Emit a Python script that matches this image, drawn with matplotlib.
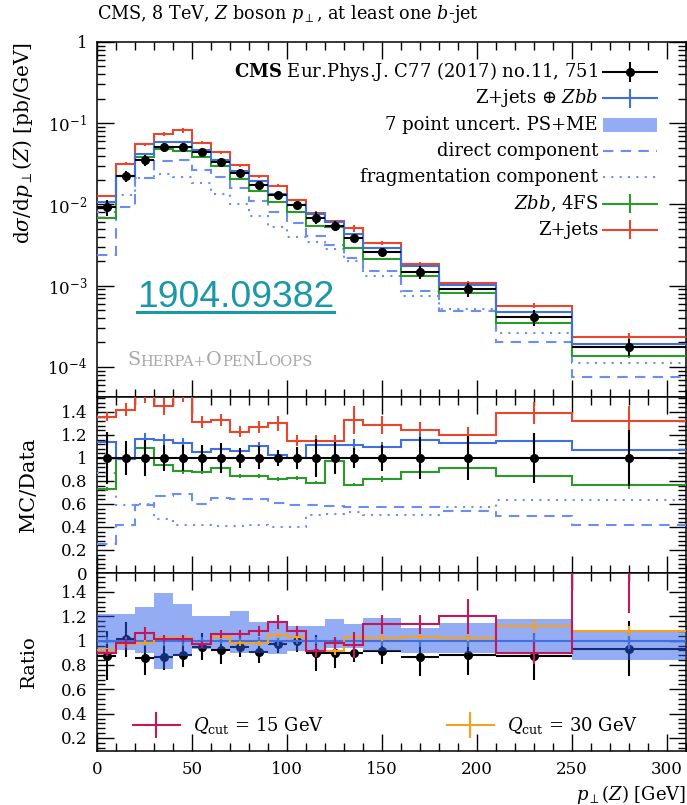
import numpy as np
import matplotlib.pyplot as plt
from matplotlib.ticker import MultipleLocator, LogLocator, FuncFormatter, NullFormatter
from matplotlib.patches import Rectangle
from matplotlib.lines import Line2D

plt.rcParams["font.family"] = "DejaVu Serif"
plt.rcParams["mathtext.fontset"] = "dejavuserif"

# bin edges in p_T(Z) [GeV]
edges = [0, 10, 20, 30, 40, 50, 60, 70, 80, 90, 100, 110, 120, 130, 140, 160, 180, 210, 250, 310]

# CMS data [pb/GeV] and relative uncertainty
data = [9.3e-3, 0.0224, 0.0353, 0.0506, 0.0515, 0.0439, 0.033, 0.0246, 0.0174, 0.0131,
        0.00986, 0.00689, 0.00543, 0.00384, 0.00263, 0.00149, 9.0e-4, 4.1e-4, 1.78e-4]
data_err = [0.23, 0.145, 0.16, 0.116, 0.116, 0.116, 0.13, 0.087, 0.10, 0.072,
            0.094, 0.165, 0.137, 0.084, 0.116, 0.18, 0.19, 0.22, 0.24]

# MC / data
ratio_comb = [1.14, 0.99, 1.168, 1.16, 1.13, 1.052, 1.08, 1.058, 1.104, 1.029,
              1.0, 1.116, 1.116, 1.116, 1.096, 1.16, 1.13, 1.148, 1.07]
ratio_direct = [0.255, 0.415, 0.594, 0.67, 0.69, 0.603, 0.652, 0.64, 0.64, 0.611,
                0.594, 0.589, 0.583, 0.574, 0.57, 0.574, 0.536, 0.496, 0.42]
ratio_frag = [0.87, 0.589, 0.60, 0.472, 0.42, 0.42, 0.409, 0.41, 0.42, 0.40,
              0.40, 0.50, 0.516, 0.53, 0.507, 0.507, 0.574, 0.632, 0.632]
ratio_zbb = [0.73, 0.99, 1.087, 0.942, 0.884, 0.878, 0.913, 0.843, 0.843, 0.82,
             0.826, 0.786, 0.97, 0.768, 0.82, 0.878, 0.913, 0.843, 0.762]
ratio_zjets = [1.36, 1.42, 1.56, 1.45, 1.60, 1.31, 1.33, 1.23, 1.27, 1.30,
               1.15, 1.15, 1.15, 1.33, 1.29, 1.24, 1.20, 1.39, 1.32]

# MC stat. uncertainties (relative)
err_comb = [0.03, 0.03, 0.04, 0.04, 0.04, 0.03, 0.03, 0.03, 0.03, 0.04,
            0.03, 0.03, 0.03, 0.04, 0.04, 0.05, 0.05, 0.06, 0.07]
err_zbb = [0.02, 0.02, 0.03, 0.03, 0.03, 0.02, 0.02, 0.02, 0.02, 0.02,
           0.02, 0.02, 0.03, 0.02, 0.03, 0.03, 0.03, 0.03, 0.04]
err_zjets = [0.03, 0.04, 0.05, 0.05, 0.07, 0.04, 0.04, 0.04, 0.04, 0.05,
             0.04, 0.04, 0.04, 0.09, 0.06, 0.06, 0.06, 0.07, 0.10]

# bottom panel: 7 point band and Qcut variations (ratio to Z+jets + Zbb)
band_lo = [0.90, 0.92, 0.90, 0.77, 0.87, 0.93, 0.93, 0.90, 0.90, 0.89,
           0.915, 0.915, 0.94, 0.94, 0.915, 0.90, 0.90, 0.888, 0.84]
band_hi = [1.22, 1.22, 1.28, 1.39, 1.30, 1.20, 1.20, 1.24, 1.15, 1.15,
           1.12, 1.12, 1.175, 1.135, 1.19, 1.107, 1.148, 1.18, 1.08]
qcut15 = [0.902, 0.978, 1.06, 1.016, 1.016, 0.97, 1.052, 1.052, 1.079, 1.153,
          1.079, 0.915, 0.984, 0.962, 1.134, 1.134, 1.20, 0.896, 1.75]
err15 = [0.03, 0.04, 0.05, 0.03, 0.03, 0.03, 0.03, 0.03, 0.04, 0.05,
         0.04, 0.05, 0.05, 0.11, 0.07, 0.07, 0.12, 0.10, 0.30]
qcut30 = [0.924, 0.97, 0.984, 1.025, 1.025, 0.97, 1.033, 0.978, 0.978, 1.044,
          1.033, 0.915, 0.915, 1.033, 1.025, 1.033, 1.025, 1.12, 1.079]
err30 = [0.02, 0.02, 0.02, 0.02, 0.02, 0.03, 0.02, 0.02, 0.02, 0.02,
         0.03, 0.03, 0.04, 0.03, 0.03, 0.03, 0.03, 0.05, 0.04]

C_COMB = "#4070e0"
C_COMP = "#6a8ff0"
C_ZBB = "#2a9a2a"
C_ZJ = "#e8472b"
C_Q15 = "#c2185b"
C_Q30 = "#f5a020"
C_BAND = "#2a5ae8"

edges = np.array(edges, dtype=float)
centers = 0.5 * (edges[:-1] + edges[1:])
halfw = 0.5 * np.diff(edges)
data = np.array(data)
data_err = np.array(data_err)

# absolute MC predictions
mc = {
    "comb": data * np.array(ratio_comb),
    "direct": data * np.array(ratio_direct),
    "frag": data * np.array(ratio_frag),
    "zbb": data * np.array(ratio_zbb),
    "zjets": data * np.array(ratio_zjets),
}

fig = plt.figure(figsize=(6.87, 8.05), dpi=100)
L, W = 97 / 687, 589 / 687
ax1 = fig.add_axes([L, 1 - 397 / 805, W, 355 / 805])
ax2 = fig.add_axes([L, 1 - 573 / 805, W, 176 / 805])
ax3 = fig.add_axes([L, 1 - 751 / 805, W, 178 / 805])

LW = 1.5


def hist(ax, vals, err, color, ls="-", z=3):
    vals = np.asarray(vals)
    ax.stairs(vals, edges, baseline=None, color=color, lw=LW, ls=ls, zorder=z)
    if err is not None:
        ax.errorbar(centers, vals, yerr=vals * np.asarray(err), fmt="none",
                    ecolor=color, elinewidth=LW, zorder=z)


# ---- top panel
hist(ax1, mc["direct"], None, C_COMP, ls=(0, (5, 3.5)))
hist(ax1, mc["frag"], None, C_COMP, ls=(0, (1, 3)))
hist(ax1, mc["zjets"], err_zjets, C_ZJ)
hist(ax1, mc["zbb"], err_zbb, C_ZBB)
hist(ax1, mc["comb"], err_comb, C_COMB)
ax1.errorbar(centers, data, yerr=data * data_err, xerr=halfw, fmt="o", color="k",
             ms=5.5, elinewidth=LW, capsize=0, zorder=6)
ax1.set_yscale("log")
ax1.set_ylim(10 ** -4.37, 1)
ax1.yaxis.set_major_locator(LogLocator(base=10, numticks=10))
ax1.yaxis.set_minor_locator(LogLocator(base=10, subs=np.arange(2, 10), numticks=20))
ax1.yaxis.set_minor_formatter(NullFormatter())


def logfmt(v, pos):
    e = int(round(np.log10(v)))
    return "1" if e == 0 else r"$10^{%d}$" % e


ax1.yaxis.set_major_formatter(FuncFormatter(logfmt))
ax1.set_ylabel(r"d$\sigma$/d$p_\perp(Z)$ [pb/GeV]", fontsize=14.5, loc="top")
ax1.yaxis.set_label_coords(-0.105, 1.0)

# legend, drawn Rivet style (text right-aligned, key on the right)
rows = [
    (r"$\mathbf{CMS}$ Eur.Phys.J. C77 (2017) no.11, 751", "data", "k"),
    (r"Z+jets $\oplus$ $Zbb$", "line", C_COMB),
    ("7 point uncert. PS+ME", "band", C_BAND),
    ("direct component", "dash", C_COMP),
    ("fragmentation component", "dot", C_COMP),
    (r"$Zbb$, 4FS", "line", C_ZBB),
    ("Z+jets", "line", C_ZJ),
]
tx, k0, k1 = 0.8506, 0.859, 0.951
for i, (lab, kind, col) in enumerate(rows):
    y = 0.9155 - i * 0.0741
    ax1.text(tx, y, lab, transform=ax1.transAxes, ha="right", va="center", fontsize=13)
    if kind == "band":
        ax1.add_patch(Rectangle((k0, y - 0.02), k1 - k0, 0.04, transform=ax1.transAxes,
                                color=C_BAND, alpha=0.5, lw=0))
        continue
    ls = {"dash": (0, (5, 3.5)), "dot": (0, (1, 3))}.get(kind, "-")
    ax1.add_line(Line2D([k0, k1], [y, y], transform=ax1.transAxes, color=col, lw=LW, ls=ls))
    if kind in ("line", "data"):
        ax1.add_line(Line2D([(k0 + k1) / 2] * 2, [y - 0.024, y + 0.024], transform=ax1.transAxes,
                            color=col, lw=LW))
    if kind == "data":
        ax1.add_line(Line2D([(k0 + k1) / 2], [y], transform=ax1.transAxes, color=col,
                            marker="o", ms=5.5))

# Sherpa+OpenLoops in small caps
prev = ax1.text(0.051, 0.079, "S", transform=ax1.transAxes, fontsize=13.8, color="#a8a8a8",
                va="bottom")
for s, big in [("HERPA+", False), ("O", True), ("PEN", False), ("L", True), ("OOPS", False)]:
    prev = ax1.annotate(s, xy=(1, 0), xycoords=prev, va="bottom", ha="left",
                        fontsize=13.8 if big else 10.6, color="#a8a8a8")

# arXiv number (underlined)
arx = ax1.text(0.068, 0.2535, "1904.09382", transform=ax1.transAxes, fontsize=26.8,
               family="Liberation Sans", color="#1b98a8", va="baseline", zorder=10)

# ---- middle panel: MC / data
ax2.errorbar(centers, np.ones_like(data), yerr=data_err, xerr=halfw, fmt="o", color="k",
             ms=5.5, elinewidth=LW, capsize=0, zorder=6)
hist(ax2, ratio_direct, None, C_COMP, ls=(0, (5, 3.5)))
hist(ax2, ratio_frag, None, C_COMP, ls=(0, (1, 3)))
hist(ax2, ratio_zjets, err_zjets, C_ZJ)
hist(ax2, ratio_zbb, err_zbb, C_ZBB)
hist(ax2, ratio_comb, err_comb, C_COMB)
ax2.set_ylim(0, 1.53)
ax2.set_ylabel("MC/Data", fontsize=15)
ax2.yaxis.set_label_coords(-0.1, 0.5)

# ---- bottom panel: ratio to Z+jets + Zbb
ref = mc["comb"]
ax3.errorbar(centers, data / ref, yerr=data * data_err / ref, xerr=halfw, fmt="o", color="k",
             ms=5.5, elinewidth=LW, capsize=0, zorder=2)
ax3.stairs(band_hi, edges, baseline=band_lo, fill=True, color=C_BAND, alpha=0.5, lw=0, zorder=3)
hist(ax3, ref / ref, err_comb, C_COMB, z=4)
hist(ax3, qcut30, err30, C_Q30, z=5)
hist(ax3, qcut15, err15, C_Q15, z=5)
ax3.set_ylim(0.093, 1.556)
ax3.set_ylabel("Ratio", fontsize=14)
ax3.yaxis.set_label_coords(-0.1, 0.5)
ax3.set_xlabel(r"$p_\perp(Z)$ [GeV]", fontsize=13, loc="right")

for col, x0, lab in [(C_Q15, 0.061, r"$Q_{\mathrm{cut}}$ = 15 GeV"),
                     (C_Q30, 0.594, r"$Q_{\mathrm{cut}}$ = 30 GeV")]:
    y = 0.146
    ax3.add_line(Line2D([x0, x0 + 0.08], [y, y], transform=ax3.transAxes, color=col, lw=LW))
    ax3.add_line(Line2D([x0 + 0.04] * 2, [y - 0.07, y + 0.07], transform=ax3.transAxes,
                        color=col, lw=LW))
    ax3.text(x0 + 0.102, y, lab, transform=ax3.transAxes, va="center", fontsize=13)

for ax in (ax1, ax2, ax3):
    ax.set_xlim(0, 310)
    ax.xaxis.set_major_locator(MultipleLocator(50))
    ax.xaxis.set_minor_locator(MultipleLocator(10))
    ax.tick_params(which="both", direction="in", top=True, right=True, labelsize=12, pad=7)
    ax.tick_params(which="major", length=12, width=1)
    ax.tick_params(which="minor", length=6, width=1)
    for sp in ax.spines.values():
        sp.set_linewidth(1.1)
    if ax is not ax3:
        ax.tick_params(labelbottom=False)
for ax in (ax2, ax3):
    ax.yaxis.set_major_locator(MultipleLocator(0.2))
    ax.yaxis.set_minor_locator(MultipleLocator(0.04))
    ax.yaxis.set_major_formatter(FuncFormatter(lambda v, p: f"{v:g}"))

fig.text(97 / 687, 1 - 14 / 805, r"CMS, 8 TeV, $Z$ boson $p_\perp$, at least one $b$-jet",
         fontsize=12.7, va="center", ha="left")

# underline for the arXiv number
fig.canvas.draw()
bb = arx.get_window_extent().transformed(fig.transFigure.inverted())
fig.add_artist(Line2D([bb.x0, bb.x1], [bb.y0 + 0.004, bb.y0 + 0.004], transform=fig.transFigure,
                      color="#1b98a8", lw=2.2))

fig.savefig("out.png", dpi=100)
